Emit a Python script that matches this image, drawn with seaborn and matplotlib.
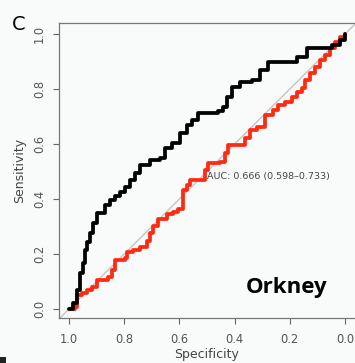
import matplotlib
matplotlib.use("Agg")
import matplotlib.pyplot as plt
import seaborn as sns
import pandas as pd
from matplotlib.patches import Rectangle

sns.set_style("white")
plt.rcParams['font.family'] = ['DejaVu Sans']

black_spec = [1.0, 0.986, 0.971, 0.960, 0.949, 0.942, 0.935, 0.924, 0.913, 0.899, 0.870, 0.851,
              0.833, 0.815, 0.797, 0.779, 0.761, 0.743, 0.707, 0.670, 0.652, 0.627, 0.598, 0.572,
              0.554, 0.533, 0.460, 0.442, 0.428, 0.409, 0.380, 0.337, 0.308, 0.279, 0.207, 0.174,
              0.138, 0.065, 0.047, 0.029, 0.018, 0.0]
black_sens = [0.0, 0.022, 0.069, 0.131, 0.167, 0.215, 0.244, 0.276, 0.313, 0.349, 0.378, 0.396,
              0.411, 0.425, 0.444, 0.469, 0.495, 0.524, 0.542, 0.549, 0.585, 0.604, 0.640, 0.669,
              0.687, 0.713, 0.720, 0.735, 0.771, 0.807, 0.825, 0.833, 0.869, 0.898, 0.898, 0.916,
              0.949, 0.949, 0.960, 0.960, 0.978, 1.0]

red_spec = [1.0, 0.978, 0.971, 0.953, 0.935, 0.917, 0.899, 0.877, 0.859, 0.844, 0.833, 0.797,
            0.790, 0.768, 0.743, 0.717, 0.707, 0.696, 0.678, 0.645, 0.623, 0.605, 0.587, 0.572,
            0.562, 0.514, 0.507, 0.496, 0.453, 0.435, 0.424, 0.380, 0.362, 0.344, 0.319, 0.290,
            0.261, 0.243, 0.217, 0.192, 0.174, 0.156, 0.145, 0.127, 0.109, 0.091, 0.072, 0.054,
            0.036, 0.018, 0.0]
red_sens = [0.0, 0.007, 0.051, 0.058, 0.069, 0.080, 0.105, 0.105, 0.116, 0.142, 0.178, 0.185,
            0.207, 0.215, 0.225, 0.247, 0.276, 0.302, 0.327, 0.345, 0.353, 0.364, 0.433, 0.451,
            0.469, 0.469, 0.505, 0.531, 0.535, 0.567, 0.596, 0.596, 0.622, 0.651, 0.662, 0.705,
            0.724, 0.742, 0.753, 0.771, 0.789, 0.804, 0.833, 0.858, 0.880, 0.905, 0.924, 0.949,
            0.971, 0.989, 1.0]

tick_vals = [1.0, 0.8, 0.6, 0.4, 0.2, 0.0]
tick_labels = ["1.0", "0.8", "0.6", "0.4", "0.2", "0.0"]
auc_text = "AUC: 0.666 (0.598\u20130.733)"
panel_label = "C"
region_label = "Orkney"

bg = "#f8fbfa"
W, H = 355, 363
fig = plt.figure(figsize=(W / 100, H / 100), dpi=100, facecolor=bg)
ax = fig.add_axes([59 / W, 1 - 318 / H, (W - 59) / W, (318 - 23) / H])
ax.set_facecolor(bg)

ax.axline((1, 0), (0, 1), color="#c4c4c4", lw=1.0, zorder=1)

dfb = pd.DataFrame({"spec": black_spec, "sens": black_sens})
dfr = pd.DataFrame({"spec": red_spec, "sens": red_sens})
sns.lineplot(data=dfr, x="spec", y="sens", sort=False, ax=ax, color="#ff2a12",
             lw=2.7, drawstyle="steps-post", zorder=3)
sns.lineplot(data=dfb, x="spec", y="sens", sort=False, ax=ax, color="black",
             lw=2.7, drawstyle="steps-post", zorder=4)

ax.set_xlim(1 + 10 / 276, -0.036)
ax.set_ylim(-9 / 275, 1 + 11 / 275)
ax.set_xticks(tick_vals)
ax.set_xticklabels(tick_labels)
ax.set_yticks(tick_vals)
ax.set_yticklabels(tick_labels, rotation=90, va="center")
ax.tick_params(axis="both", direction="out", length=4.5, width=0.8, color="#666666",
               labelcolor="#555555", labelsize=8.3, left=True, bottom=True)
ax.tick_params(axis="x", pad=6)
ax.tick_params(axis="y", pad=5)
for s in ["left", "bottom", "top"]:
    ax.spines[s].set_color("#777777")
    ax.spines[s].set_linewidth(0.9)
ax.spines["right"].set_visible(False)

ax.set_xlabel("Specificity", fontsize=9, color="#444444", labelpad=2)
ax.set_ylabel("Sensitivity", fontsize=9, color="#444444", labelpad=5)

fig.text(207 / W, 1 - 177 / H, auc_text, fontsize=6.8, color="#444444", va="center", ha="left")
fig.text(12 / W, 1 - 24 / H, panel_label, fontsize=14, color="black", va="center", ha="left")
fig.text(287 / W, 1 - 288 / H, region_label, fontsize=16, fontweight="bold", color="black",
         va="center", ha="center", family=["Open Sans", "DejaVu Sans"])

fig.patches.append(Rectangle((0, 0), 6 / W, 6 / H, transform=fig.transFigure,
                             facecolor="#222222", edgecolor="none"))

fig.savefig("out.png", dpi=100, facecolor=bg)
